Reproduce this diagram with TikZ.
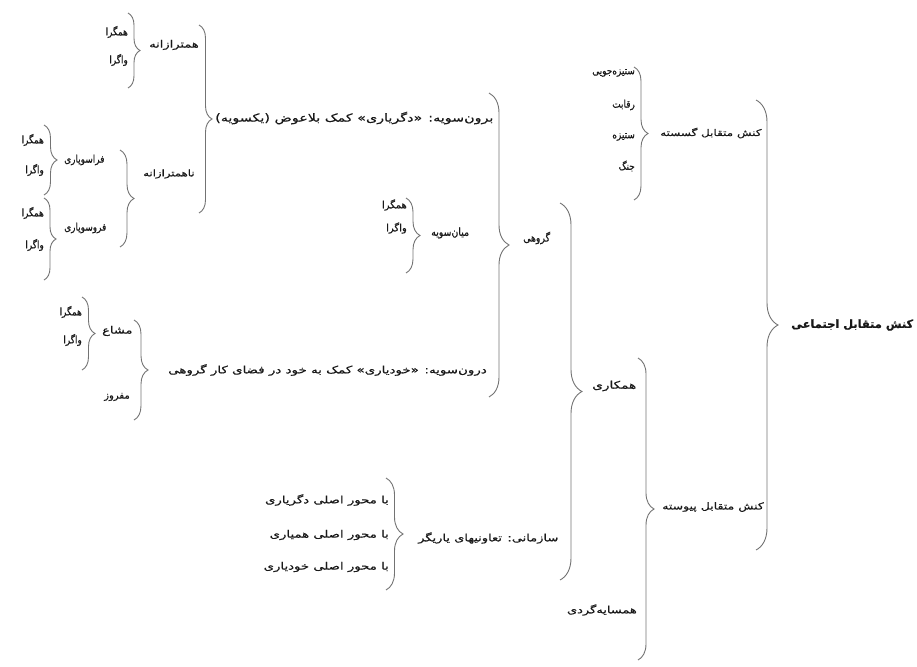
\documentclass[tikz,border=0pt]{standalone}
\usepackage{fontspec}
\usepackage{tikz}
\usetikzlibrary{decorations.pathreplacing}
\newfontfamily\farsifont[Script=Arabic,FakeBold=0.6]{DejaVu Sans}
\newfontfamily\farsiwide[Script=Arabic,FakeStretch=1.3,FakeBold=0.6]{DejaVu Sans}
\newfontfamily\farsinarrow[Script=Arabic,FakeStretch=0.85,FakeBold=0.6]{DejaVu Sans}
\TeXXeTstate=1
\newcommand{\fatxt}[1]{\beginR #1\endR}

\begin{document}
\begin{tikzpicture}[x=1pt,y=-1pt,
    lbl/.style={inner sep=1pt,text=black!90,font=\farsifont\fontsize{#1}{12}\selectfont},
    lbl/.default=10,
    wide/.style={inner sep=1pt,text=black!90,font=\farsiwide\fontsize{#1}{12}\selectfont},
    wide/.default=10,
    narrow/.style={inner sep=1pt,text=black!90,font=\farsinarrow\fontsize{#1}{12}\selectfont},
    narrow/.default=10.5,
    clbl/.style={anchor=east},
    plbl/.style={anchor=west},
    brc/.style={decorate,decoration={brace,amplitude=#1},draw=black!55,line width=0.9pt}]
    \useasboundingbox (0,0) rectangle (917,666);

    % braces: name / x / top / bottom / amplitude
    \foreach \nm/\x/\t/\b/\a in {b0/756/100/550/22, b1/634/67/200/14, b2/638/358/660/16,
        b3/560/203/580/22, b4/489/93/397/20, b5/199/25/213/13, b6/128/13/88/12,
        b7/120/150/247/14, b8/44/125/195/13, b9/44/198/280/12, b10/134/320/420/14,
        b11/82/297/370/13, b12/406/198/273/14, b13/386/478/590/17}
    {
        \coordinate (\nm_t) at (\x,\t);
        \coordinate (\nm_b) at (\x,\b);
        \draw[brc=\a] (\nm_t) -- (\nm_b);
    }

    \node[plbl,lbl,font=\farsifont\bfseries\fontsize{11.4}{13}\selectfont] (n_root) at (790,325) {\fatxt{کنش متقابل اجتماعی}};

    \node[plbl,wide=9.2] (n_gosaste) at (659,133) {\fatxt{کنش متقابل گسسته}};
    \node[plbl,wide=9.6] (n_peyvaste) at (661,507) {\fatxt{کنش متقابل پیوسته}};

    \node[clbl,narrow] (n_setiz) at (636,73) {\fatxt{ستیزه‌جویی}};
    \node[clbl,narrow] (n_reghabat) at (636,105) {\fatxt{رقابت}};
    \node[clbl,narrow] (n_setize) at (636,137) {\fatxt{ستیزه}};
    \node[clbl,narrow] (n_jang) at (636,166) {\fatxt{جنگ}};

    \node[plbl,wide=10.5] (n_hamkari) at (591,386) {\fatxt{همکاری}};
    \node[clbl,wide] (n_hamsaye) at (638,610) {\fatxt{همسایه‌گردی}};

    \node[plbl,narrow=11] (n_gorohi) at (522,238) {\fatxt{گروهی}};
    \node[plbl,wide] (n_sazmani) at (417,538) {\fatxt{سازمانی: تعاونیهای یاریگر}};

    \node[clbl,wide=10.2] (n_mehvar1) at (390,500) {\fatxt{با محور اصلی دگریاری}};
    \node[clbl,wide=10.2] (n_mehvar2) at (390,535) {\fatxt{با محور اصلی همیاری}};
    \node[clbl,wide=10.2] (n_mehvar3) at (390,567) {\fatxt{با محور اصلی خودیاری}};

    \node[plbl,wide=11] (n_boron) at (214,118) {\fatxt{برون‌سویه: «دگریاری» کمک بلاعوض (یکسویه)}};
    \node[plbl,narrow=11] (n_miyan) at (430,233) {\fatxt{میان‌سویه}};
    \node[plbl,wide=10.3] (n_daron) at (167,370) {\fatxt{درون‌سویه: «خودیاری» کمک به خود در فضای کار گروهی}};

    \node[clbl,lbl] (n_miyan_hg) at (408,205) {\fatxt{همگرا}};
    \node[clbl,lbl] (n_miyan_vg) at (408,228) {\fatxt{واگرا}};

    \node[plbl,wide] (n_hamtaraz) at (148,45) {\fatxt{همترازانه}};
    \node[plbl,wide=9] (n_nahamtaraz) at (142,174) {\fatxt{ناهمترازانه}};
    \node[clbl,narrow] (n_hamtaraz_hg) at (129,32) {\fatxt{همگرا}};
    \node[clbl,narrow] (n_hamtaraz_vg) at (129,60) {\fatxt{واگرا}};

    \node[plbl,narrow] (n_faraso) at (63,160) {\fatxt{فراسویاری}};
    \node[plbl,narrow] (n_foroso) at (63,228) {\fatxt{فروسویاری}};
    \node[clbl,narrow] (n_faraso_hg) at (45,140) {\fatxt{همگرا}};
    \node[clbl,narrow] (n_faraso_vg) at (45,170) {\fatxt{واگرا}};
    \node[clbl,narrow] (n_foroso_hg) at (45,213) {\fatxt{همگرا}};
    \node[clbl,narrow] (n_foroso_vg) at (45,245) {\fatxt{واگرا}};

    \node[plbl,wide] (n_mosha) at (101,331) {\fatxt{مشاع}};
    \node[clbl,lbl] (n_mafroz) at (131,397) {\fatxt{مفروز}};
    \node[clbl,narrow] (n_mosha_hg) at (83,312) {\fatxt{همگرا}};
    \node[clbl,narrow] (n_mosha_vg) at (83,340) {\fatxt{واگرا}};
\end{tikzpicture}
\end{document}
